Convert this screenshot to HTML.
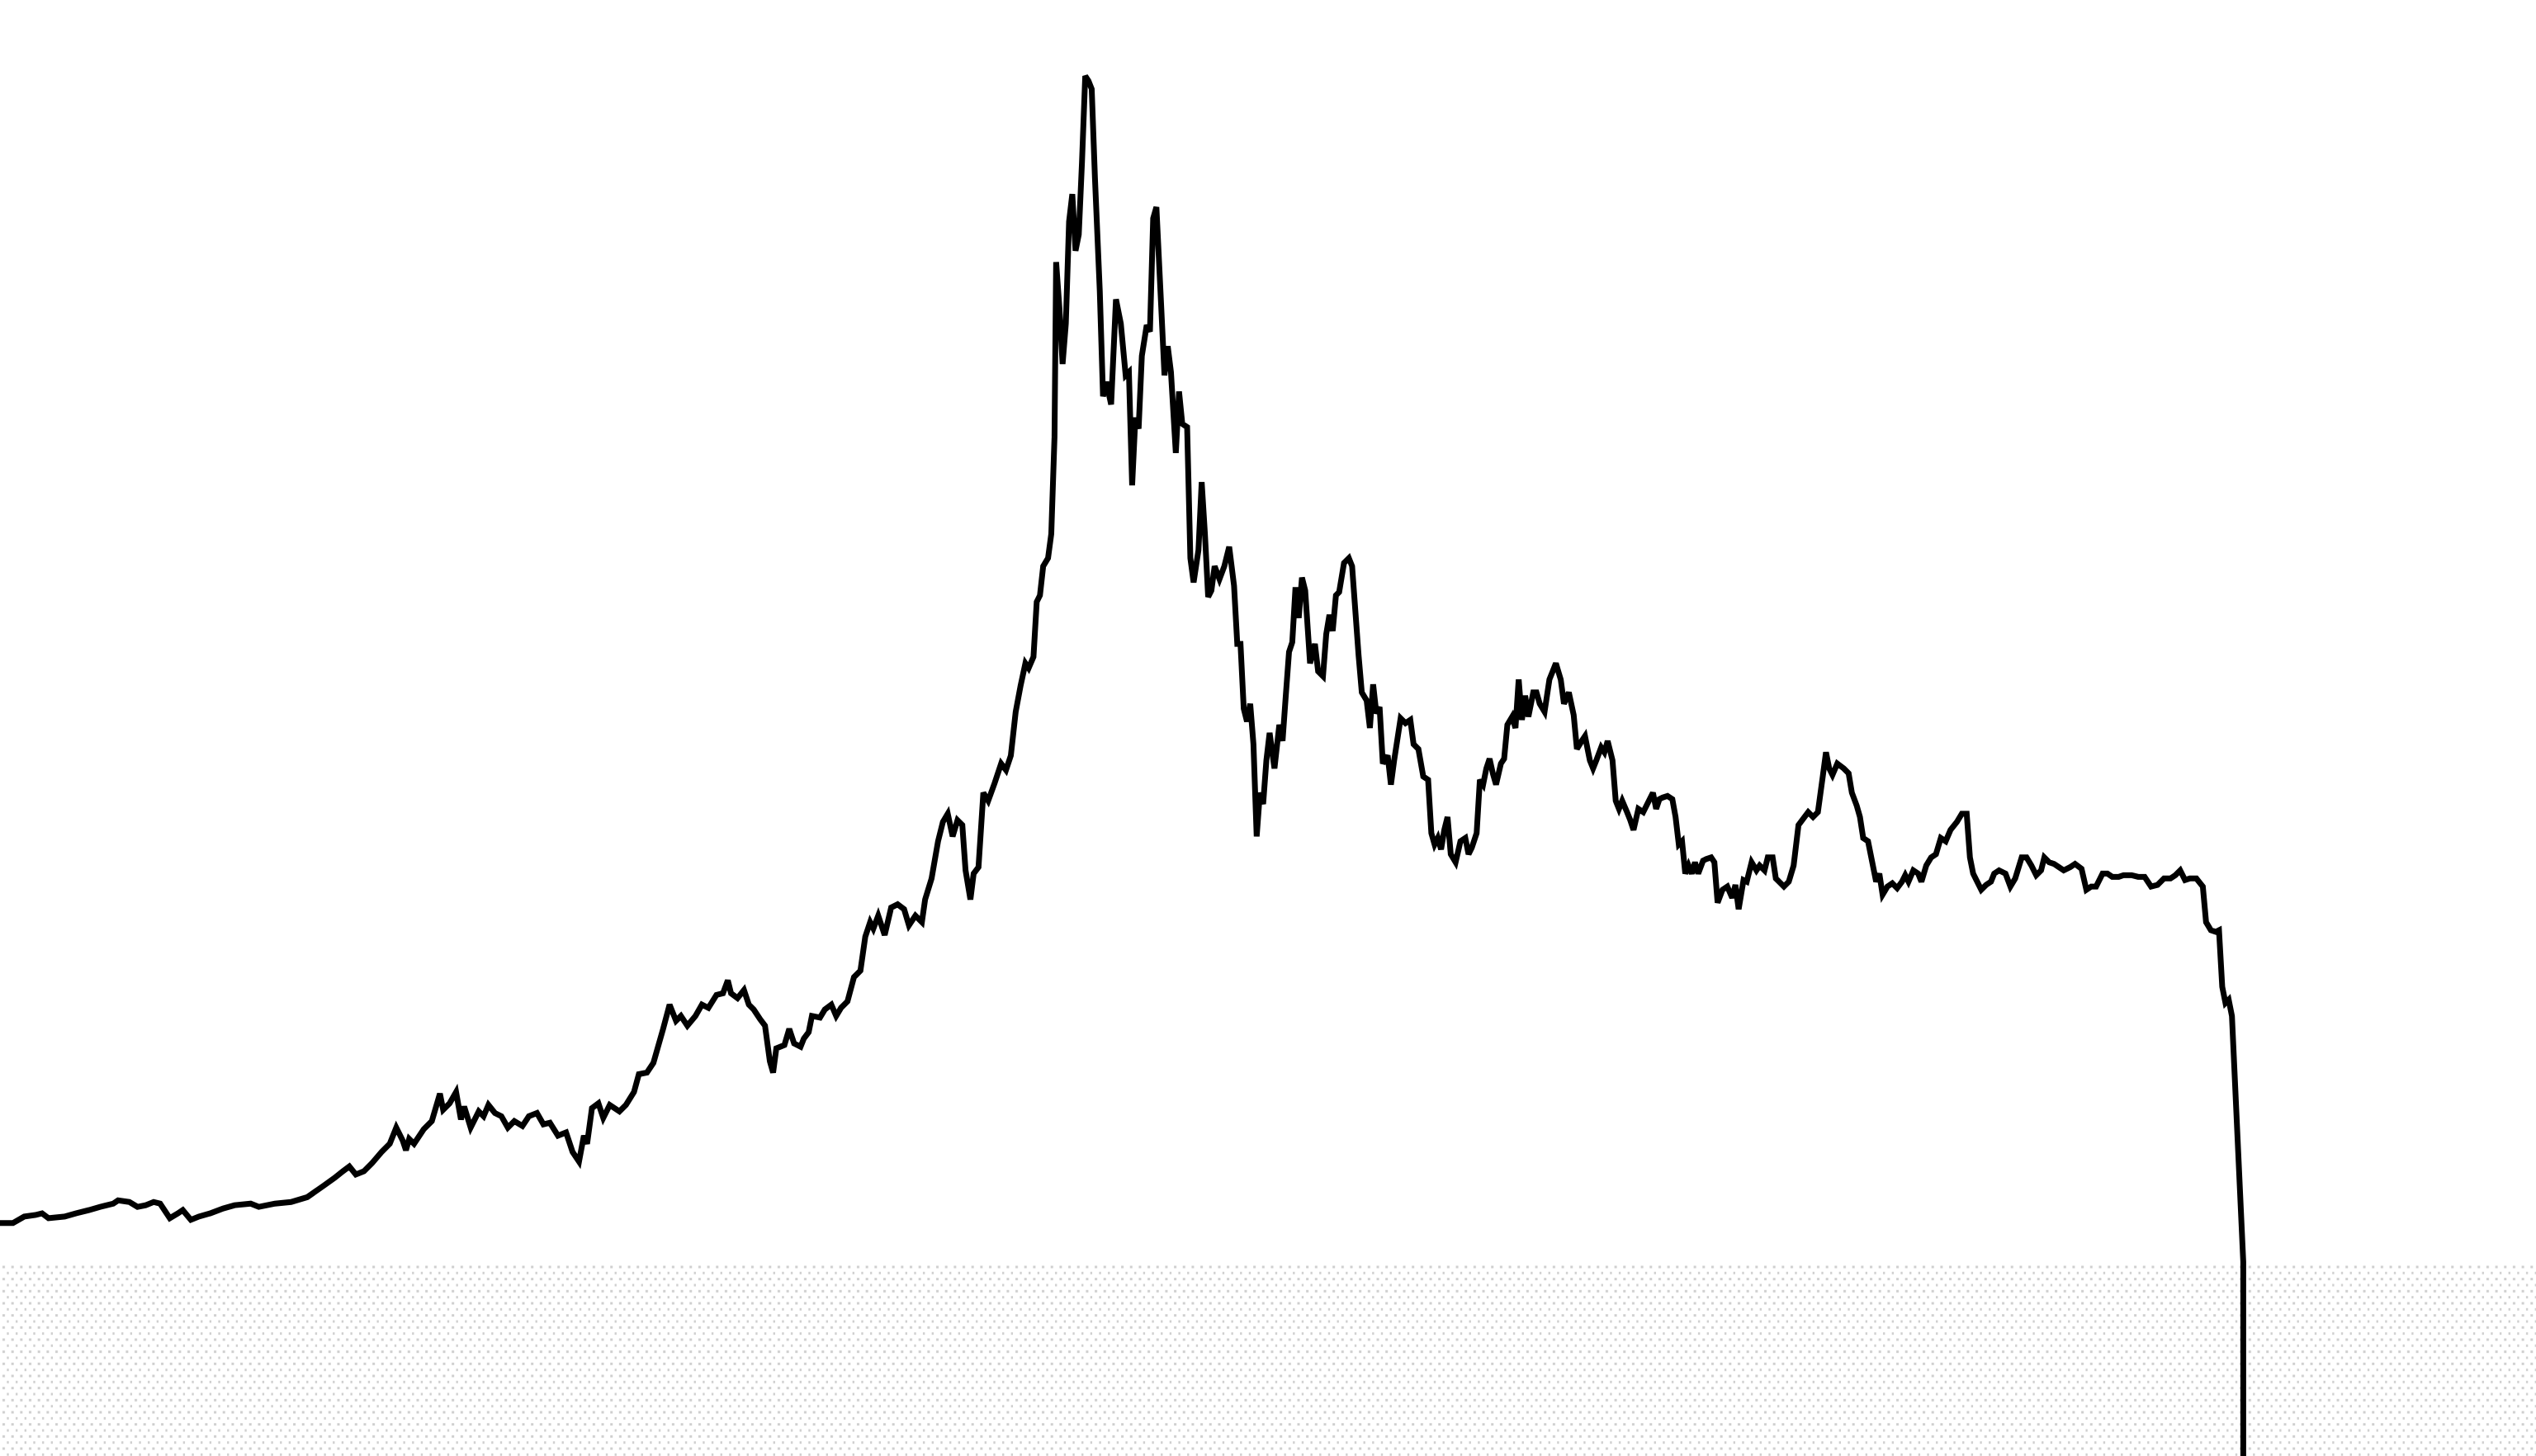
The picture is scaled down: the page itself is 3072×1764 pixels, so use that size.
<!DOCTYPE html>
<html>
<head>
<meta charset="utf-8">
<style>
html,body{margin:0;padding:0;background:#fff;}
svg{display:block;}
</style>
</head>
<body>
<svg id="chart" width="3072" height="1764" viewBox="0 0 3072 1764" xmlns="http://www.w3.org/2000/svg">
<defs>
<pattern id="dots" width="10.67" height="14.67" patternUnits="userSpaceOnUse" x="0" y="1532">
<rect x="3" y="1.5" width="3" height="3" fill="#cfcfcf"/>
<rect x="8.33" y="8.83" width="3" height="3" fill="#cfcfcf"/>
</pattern>
</defs>
<rect x="0" y="1532" width="3072" height="232" fill="url(#dots)"/>
<g id="series"></g>
</svg>
<script>
const dates = [0,8,15,22,26,30,40,47,55,62,70,73,80,85,90,95,99,105,110,113,118,123,130,138,145,155,160,170,180,190,200,207,212,216,220,225,230,236,241,245,249,251,253,256,262,267,272,274,278,282,285,287,291,296,299,302,306,310,314,318,323,327,332,336,340,345,350,354,358,361,363,366,370,373,377,383,387,392,395,400,404,410,414,418,421,425,430,434,438,443,447,450,452,456,460,463,466,470,473,476,478,480,485,488,491,495,497,500,502,507,510,514,517,520,524,528,532,535,538,540,543,547,551,555,559,562,566,570,572,576,580,583,586,589,592,595,597,600,602,605,608,611,615,619,622,625,628,631,634,636,639,641,643,645,648,650,652,653,655,657,659,661,663,665,667,669,671,673,675,677,680,682,684,687,690,693,696,698,700,702,704,706,709,711,713,715,718,720,722,724,727,729,731,734,736,738,741,743,745,747,749,751,754,757,760,763,765,767,769,771,773,775,777,779,781,783,785,788,791,793,795,797,799,801,803,805,807,810,813,815,818,820,822,824,826,828,831,834,836,840,842,845,847,849,851,853,855,858,860,862,866,869,872,874,877,880,883,885,887,889,891,893,895,897,900,903,906,908,910,913,915,917,919,921,923,925,928,930,932,935,937,939,941,943,945,948,950,952,955,958,960,962,965,967,970,973,975,978,980,983,985,987,990,992,994,997,999,1001,1003,1006,1008,1010,1013,1016,1019,1022,1024,1026,1028,1031,1034,1036,1038,1040,1042,1044,1046,1048,1050,1053,1055,1058,1060,1062,1065,1068,1071,1073,1075,1078,1080,1083,1086,1088,1091,1093,1096,1098,1100,1103,1106,1109,1112,1115,1118,1121,1124,1127,1129,1131,1133,1136,1140,1143,1145,1148,1150,1152,1155,1157,1160,1162,1164,1167,1170,1173,1176,1178,1180,1183,1186,1188,1191,1194,1197,1200,1203,1206,1210,1213,1216,1218,1220,1223,1225,1228,1231,1233,1236,1240,1243,1246,1250,1253,1256,1259,1262,1264,1267,1270,1273,1276,1280,1283,1287,1290,1293,1296,1300,1303,1306,1310,1313,1318,1322,1326,1330,1334,1338,1342,1345,1348,1351,1354,1358,1362,1364,1367,1370,1372,1374,1376,1378,1380,1387,1387];
const screenY = [756,756,752,751,750,753,752,750,748,746,744,742,743,746,745,743,744,753,750,748,754,752,750,747,745,744,746,744,743,740,733,728,724,721,726,724,719,712,707,697,705,711,704,707,698,693,676,686,682,675,692,684,697,687,690,683,688,690,697,693,696,690,688,695,694,702,700,712,718,702,707,685,682,691,683,687,683,675,664,663,657,636,621,631,628,634,628,621,623,615,614,606,614,617,612,621,624,630,634,656,663,648,646,636,645,647,642,638,628,629,624,621,628,623,619,604,600,579,570,574,566,578,561,559,562,572,566,570,556,543,520,508,503,517,507,510,538,556,540,536,490,495,484,472,476,467,440,424,410,413,406,372,368,350,345,330,270,162,190,225,200,137,120,155,145,100,47,50,55,110,180,245,236,250,185,200,232,230,300,258,265,220,201,205,135,128,190,232,214,230,280,242,262,264,345,360,340,298,330,369,365,350,358,350,338,362,398,398,438,446,435,460,517,490,497,470,453,475,448,458,430,403,397,363,382,357,365,410,398,415,418,392,380,390,368,366,348,345,350,405,428,433,450,423,441,437,472,467,485,470,444,447,445,460,463,480,482,515,522,518,525,513,505,528,533,520,518,528,524,515,482,485,475,469,478,485,472,469,448,443,450,420,445,430,443,428,428,435,440,420,415,410,420,435,428,442,463,458,455,470,475,470,462,465,458,470,495,500,495,502,507,513,500,502,496,490,500,494,493,492,494,505,522,520,540,535,540,533,540,532,531,530,533,558,550,548,555,547,562,544,545,533,538,535,538,530,530,543,545,548,545,535,510,506,502,505,502,480,465,475,479,472,475,478,490,498,505,518,520,530,545,540,553,548,546,549,545,541,545,538,540,545,535,530,528,518,520,513,508,503,503,530,540,546,550,547,545,540,538,540,548,543,530,530,535,541,538,530,533,534,536,538,536,534,537,550,548,548,540,540,542,542,541,541,542,542,548,547,543,543,541,538,544,543,543,548,570,575,576,575,610,620,618,628,780,900];
const prices = screenY.map(v => 900 - v);

const W = 3072, H = 1764;
function xScale(d){ return d / 1568 * W; }
function yScale(p){ return H - p / 900 * H; }

const g = document.getElementById('series');
let dStr = '';
for (let i = 0; i < dates.length; i++) {
  dStr += (i ? 'L' : 'M') + xScale(dates[i]).toFixed(2) + ' ' + yScale(prices[i]).toFixed(2);
}
const path = document.createElementNS('http://www.w3.org/2000/svg', 'path');
path.setAttribute('d', dStr);
path.setAttribute('fill', 'none');
path.setAttribute('stroke', '#000');
path.setAttribute('stroke-width', '7');
path.setAttribute('stroke-linejoin', 'miter');
path.setAttribute('stroke-miterlimit', '3');


g.appendChild(path);
</script>
</body>
</html>
